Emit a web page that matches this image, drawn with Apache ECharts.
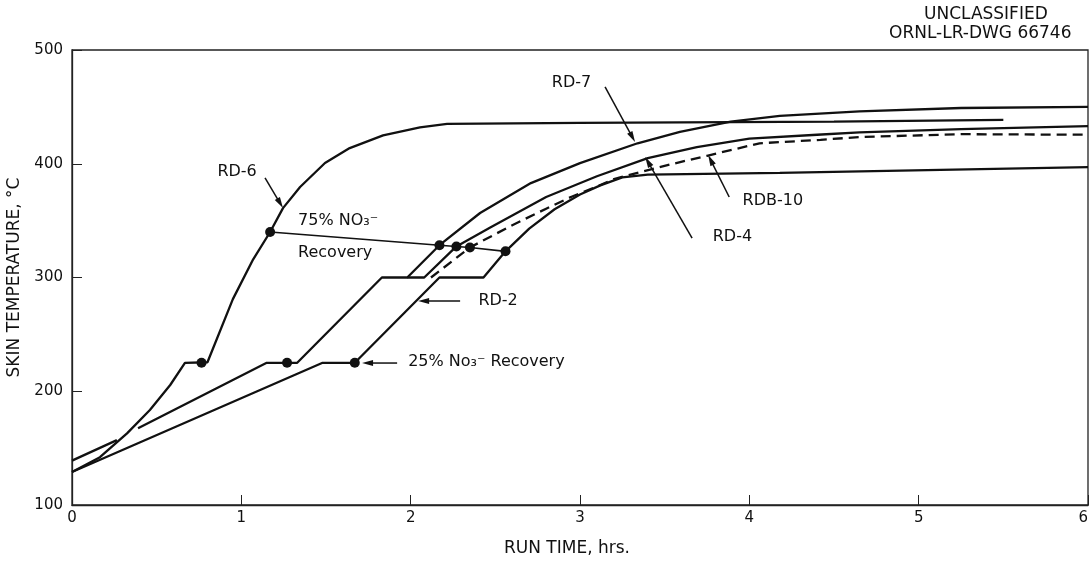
<!DOCTYPE html>
<html>
<head>
<meta charset="utf-8">
<script src="https://cdn.jsdelivr.net/npm/echarts@6/dist/echarts.min.js"></script>
<style>
  html, body { margin: 0; padding: 0; background: #fff; }
  #chart { width: 1090px; height: 562px; }
</style>
</head>
<body>
<div id="chart"></div>
<script>
// Axis ticks
const xTicks = [0, 1, 2, 3, 4, 5, 6];
const yTicks = [100, 200, 300, 400, 500];

// Skin temperature (°C) against run time (hrs) for each run
const rd6 = [[0, 129], [0.165, 142], [0.325, 163], [0.46, 183.5], [0.58, 205.5], [0.667, 225],
  [0.8, 225.5], [0.95, 281], [1.07, 316], [1.17, 340], [1.246, 361], [1.347, 379.6],
  [1.494, 400.7], [1.64, 413.8], [1.837, 425], [2.055, 432], [2.215, 435], [3.0, 436],
  [4.5, 437], [5.5, 438.5]];
const rd7 = [[0, 139], [0.265, 157], [0.33, '-'], [0.39, 167.5], [1.15, 225], [1.33, 225],
  [1.83, 300], [1.98, 300], [2.17, 328.4], [2.41, 356.7], [2.71, 383], [3.0, 400.6],
  [3.34, 418], [3.59, 428], [3.89, 437], [4.18, 442], [4.65, 446], [5.25, 449], [6, 450]];
const rd4 = [[1.98, 300], [2.08, 300], [2.27, 327.3], [2.47, 344], [2.8, 370.8], [3.1, 389],
  [3.4, 405], [3.69, 414.7], [4.0, 422], [4.4, 425.5], [4.65, 427.5], [5.25, 430.5], [6, 433]];
const rdb10 = [[2.12, 300], [2.35, 326.4], [2.6, 346], [2.8, 360.5], [2.95, 371], [3.1, 380],
  [3.2, 386.5], [3.35, 392.5], [3.55, 400], [3.75, 407], [4.06, 418], [4.42, 421],
  [4.65, 423.5], [5.25, 426], [6, 425.5]];
const rd2 = [[0, 129], [1.48, 225], [1.67, 225], [2.17, 300], [2.43, 300], [2.56, 323],
  [2.7, 343], [2.85, 360], [3.0, 373], [3.12, 381], [3.25, 388], [3.4, 390.5], [4.18, 392],
  [6, 397]];

// Nitrate recovery points
const recovery25 = [[0.765, 225], [1.27, 225], [1.67, 225]];
const recovery75 = [[1.17, 340], [2.17, 328.4], [2.27, 327.3], [2.35, 326.4], [2.56, 323]];

// Callout text: [x, y, text, align]
const notes = [
  [0.975, 392.7, 'RD-6', 'center'],
  [1.335, 349.5, '75% NO₃⁻', 'left'],
  [1.335, 321.5, 'Recovery', 'left'],
  [2.95, 471, 'RD-7', 'center'],
  [3.90, 335.6, 'RD-4', 'center'],
  [3.96, 367.3, 'RDB-10', 'left'],
  [2.40, 279.3, 'RD-2', 'left'],
  [1.985, 226, '25% No₃⁻ Recovery', 'left']
];
// Pointer arrows: [tailX, tailY, headX, headY]
const arrows = [
  [1.14, 387.5, 1.246, 361.1],
  [3.148, 467.5, 3.325, 419.1],
  [3.662, 334.7, 3.385, 405.9],
  [3.881, 370.8, 3.757, 407.7],
  [2.292, 279.3, 2.044, 279.3],
  [1.92, 224.8, 1.713, 224.8]
];

const FONT = 'DejaVu Sans';
const INK = '#111';

function curve(name, data, dashed) {
  return {
    name, type: 'line', data, showSymbol: false, smooth: false, connectNulls: false,
    lineStyle: { color: INK, width: 2.3, type: dashed ? [10, 6] : 'solid' },
    z: 3, silent: true
  };
}

const chart = echarts.init(document.getElementById('chart'), null, { renderer: 'canvas' });
chart.setOption({
  animation: false,
  backgroundColor: '#fff',
  textStyle: { fontFamily: FONT, color: INK },
  grid: {
    left: 72, right: 2, top: 50, bottom: 57, outerBoundsMode: 'none', containLabel: false,
    show: true, borderColor: '#222', borderWidth: 1.3
  },
  graphic: [
    { type: 'text', left: 924, top: 6, style: { text: 'UNCLASSIFIED', font: '17px "DejaVu Sans"', fill: INK } },
    { type: 'text', left: 889, top: 25, style: { text: 'ORNL-LR-DWG 66746', font: '17px "DejaVu Sans"', fill: INK } }
  ],
  xAxis: {
    type: 'value', min: xTicks[0], max: xTicks[xTicks.length - 1], interval: 1,
    name: 'RUN TIME, hrs.', nameLocation: 'middle', nameGap: 35,
    nameTextStyle: { fontFamily: FONT, fontSize: 17, color: INK, padding: [0, 26, 0, 0] },
    axisLine: { lineStyle: { color: '#222', width: 1.3 } },
    axisTick: { inside: true, length: 10, lineStyle: { color: '#222' } },
    axisLabel: { margin: 6, fontFamily: FONT, fontSize: 15, color: INK, alignMaxLabel: 'right' },
    splitLine: { show: false }
  },
  yAxis: {
    type: 'value', min: yTicks[0], max: yTicks[yTicks.length - 1], interval: 100,
    name: 'SKIN TEMPERATURE, °C', nameLocation: 'middle', nameGap: 47, nameRotate: 90,
    nameTextStyle: { fontFamily: FONT, fontSize: 17, color: INK },
    axisLine: { show: true, lineStyle: { color: '#222', width: 1.3 } },
    axisTick: { show: true, inside: true, length: 10, lineStyle: { color: '#222' } },
    axisLabel: { margin: 9, fontFamily: FONT, fontSize: 15, color: INK },
    splitLine: { show: false }
  },
  series: [
    curve('RD-6', rd6),
    curve('RD-7', rd7),
    curve('RD-4', rd4),
    curve('RDB-10', rdb10, true),
    curve('RD-2', rd2),
    {
      name: '75% recovery', type: 'line', data: recovery75, symbol: 'circle', symbolSize: 10,
      showSymbol: true, itemStyle: { color: INK, opacity: 1 }, lineStyle: { color: INK, width: 1.6 }, z: 4, silent: true
    },
    {
      name: '25% recovery', type: 'scatter', data: recovery25, symbol: 'circle', symbolSize: 10,
      itemStyle: { color: INK, opacity: 1 }, z: 4, silent: true
    },
    {
      name: 'arrows', type: 'custom', data: arrows, encode: { x: [0, 2], y: [1, 3] }, z: 5, silent: true,
      renderItem(params, api) {
        const t = api.coord([api.value(0), api.value(1)]);
        const h = api.coord([api.value(2), api.value(3)]);
        const dx = h[0] - t[0], dy = h[1] - t[1];
        const len = Math.hypot(dx, dy) || 1;
        const ux = dx / len, uy = dy / len;
        const L = 11, W = 3;
        const bx = h[0] - ux * L, by = h[1] - uy * L;
        return {
          type: 'group',
          children: [
            { type: 'line', shape: { x1: t[0], y1: t[1], x2: bx + ux * 2, y2: by + uy * 2 },
              style: { stroke: INK, lineWidth: 1.5 } },
            { type: 'polygon', shape: { points: [[h[0], h[1]], [bx - uy * W, by + ux * W], [bx + uy * W, by - ux * W]] },
              style: { fill: INK } }
          ]
        };
      }
    },
    {
      name: 'notes', type: 'scatter', symbolSize: 0, z: 6, silent: true,
      itemStyle: { opacity: 1 },
      data: notes.map(n => ({
        value: [n[0], n[1]],
        label: {
          show: true, position: 'inside', formatter: n[2], align: n[3], verticalAlign: 'middle',
          fontFamily: FONT, fontSize: 16, color: INK, opacity: 1
        }
      }))
    }
  ]
});
</script>
</body>
</html>
